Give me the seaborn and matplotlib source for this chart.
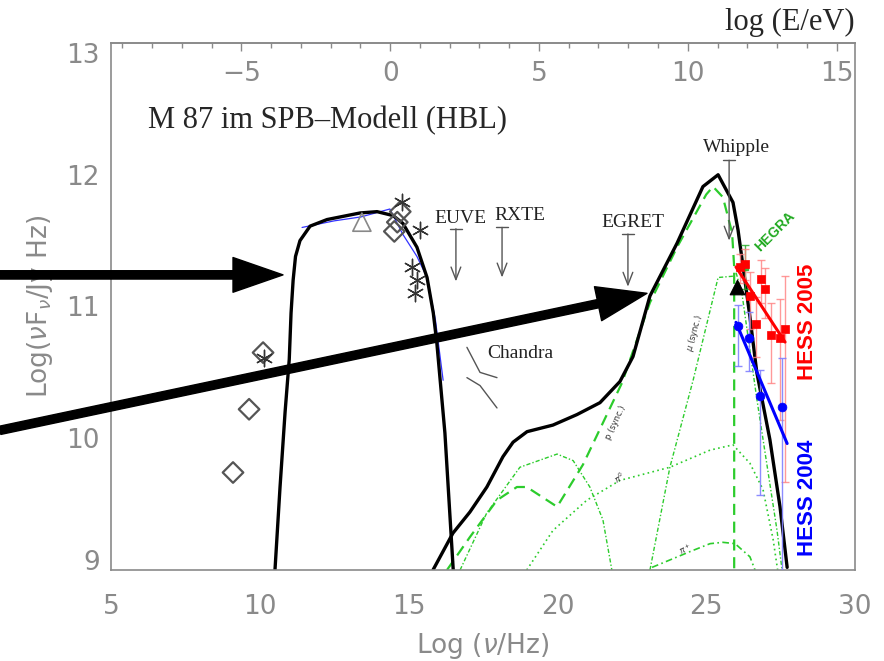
import numpy as np
import pandas as pd
import matplotlib
matplotlib.use("Agg")
import matplotlib.pyplot as plt
from matplotlib.ticker import MultipleLocator
import seaborn as sns

sns.set_style("white")
plt.rcParams["font.family"] = ["DejaVu Sans"]

# ---------------- data ----------------
# synchrotron model (black, low energy)
sync_nu = [10.51, 10.68, 10.85, 10.99, 11.05, 11.12, 11.20, 11.35, 11.69, 12.26, 13.37, 13.94, 14.48, 14.81, 15.28, 15.62, 15.83, 15.95, 16.22, 16.50]
sync_y = [9.00, 9.63, 10.20, 10.60, 10.95, 11.20, 11.38, 11.50, 11.61, 11.66, 11.71, 11.72, 11.69, 11.63, 11.45, 11.22, 10.95, 10.72, 10.04, 9.00]
# thin blue data curve
blue_nu = [11.42, 12.50, 13.40, 14.37, 14.80, 15.28, 15.62, 15.90, 16.16]
blue_y = [11.60, 11.65, 11.68, 11.74, 11.55, 11.38, 11.22, 10.90, 10.44]
# SPB total (black, high energy)
spb_nu = [15.82, 16.49, 17.06, 17.63, 18.17, 18.51, 18.98, 19.85, 20.66, 21.43, 22.10, 22.54, 23.11, 24.02, 24.89, 25.40, 25.90, 26.07, 26.47, 26.70, 27.14, 27.48, 27.72]
spb_y = [9.00, 9.28, 9.44, 9.63, 9.86, 9.97, 10.05, 10.10, 10.18, 10.27, 10.43, 10.62, 11.08, 11.48, 11.91, 12.00, 11.79, 11.58, 10.92, 10.50, 9.99, 9.48, 9.02]
# p (sync.) green dashed
psync_nu = [16.29, 17.06, 17.97, 18.64, 18.97, 19.99, 20.86, 22.17, 23.11, 24.02, 25.00, 25.23, 25.56, 25.87, 25.94, 25.94]
psync_y = [9.00, 9.25, 9.53, 9.63, 9.63, 9.48, 9.80, 10.42, 11.03, 11.45, 11.85, 11.91, 11.83, 11.56, 11.30, 9.00]
# hump green dotted-dashed
hump_nu = [16.73, 17.62, 18.74, 19.99, 20.53, 21.09, 21.53, 21.83]
hump_y = [9.00, 9.43, 9.78, 9.88, 9.83, 9.63, 9.38, 9.00]
# pi0 cascade green dotted
pi0_nu = [18.97, 19.85, 20.99, 22.10, 23.78, 25.13, 25.90, 26.47, 26.91, 27.25, 27.40]
pi0_y = [9.00, 9.30, 9.53, 9.68, 9.78, 9.91, 9.95, 9.81, 9.61, 9.23, 9.00]
# mu (sync.) green dash-dot
mu_nu = [23.11, 23.78, 24.56, 25.40, 25.90, 26.00, 26.20, 26.70, 27.38, 27.55]
mu_y = [9.00, 9.78, 10.44, 11.22, 11.23, 11.26, 11.10, 10.30, 9.30, 9.00]
# pi+ cascade green dash-dot
pip_nu = [23.18, 24.46, 25.13, 25.56, 25.97, 26.47, 26.64]
pip_y = [9.02, 9.14, 9.20, 9.21, 9.20, 9.10, 9.00]

# archival data
dia_nu = [9.10, 9.64, 10.11, 14.72, 14.62, 14.52]
dia_y = [9.74, 10.22, 10.65, 11.72, 11.64, 11.57]
ast_nu = [10.15, 14.78, 15.38, 15.11, 15.28, 15.21]
ast_y = [10.61, 11.79, 11.58, 11.30, 11.20, 11.10]
tri_nu = [13.43]
tri_y = [11.64]

# HESS 2005
h5_nu = [26.14, 26.30, 26.47, 26.84, 26.98, 26.67, 27.18, 27.48, 27.65]
h5_y = [11.30, 11.32, 11.08, 11.21, 11.13, 10.87, 10.78, 10.76, 10.83]
h5_lo = [0.12, 0.12, 0.25, 0.18, 0.22, 0.25, 0.36, 0.62, 1.16]
h5_hi = [0.10, 0.12, 0.18, 0.14, 0.16, 0.20, 0.25, 0.30, 0.40]
h5_fit_nu = [26.00, 27.65]
h5_fit_y = [11.30, 10.73]
# HESS 2004
h4_nu = [26.07, 26.44, 26.81, 27.55]
h4_y = [10.85, 10.76, 10.32, 10.24]
h4_lo = [0.30, 0.25, 0.75, 1.30]
h4_hi = [0.16, 0.20, 0.20, 0.37]
h4_fit_nu = [26.00, 27.72]
h4_fit_y = [10.88, 9.96]
# HEGRA
hegra_nu = [26.30]
hegra_y = [11.30]
hegra_err = [0.17]
# black triangle
btri_nu = [26.03]
btri_y = [11.15]

# upper limits
ul_names = ["EUVE", "RXTE", "EGRET", "Whipple"]
ul_nu = [16.59, 18.14, 22.37, 25.77]
ul_top = [11.59, 11.60, 11.55, 12.11]
ul_bot = [11.19, 11.22, 11.15, 11.50]
ul_lab_nu = [16.73, 18.74, 22.54, 26.03]
ul_lab_y = [11.63, 11.66, 11.60, 12.17]

# Chandra bow-tie
ch1_nu = [16.96, 17.40, 17.97]
ch1_y = [10.69, 10.50, 10.46]
ch2_nu = [16.96, 17.40, 17.97]
ch2_y = [10.46, 10.40, 10.23]

# big annotation arrows (tail -> head)
arr_tail_nu = [1.27, 1.27]
arr_tail_y = [11.24, 10.06]
arr_head_nu = [10.78, 23.01]
arr_head_y = [11.24, 11.10]

xticks = [5, 10, 15, 20, 25, 30]
yticks = [9, 10, 11, 12, 13]
top_ticks = [-5, 0, 5, 10, 15]
E_OFFSET = 14.38  # log(E/eV) = log(nu/Hz) - 14.38

# ---------------- figure ----------------
W, H = 884, 661
fig = plt.figure(figsize=(W / 100, H / 100), dpi=100)
ax = fig.add_axes([111 / W, (H - 570) / H, 744 / W, 527 / H])
ax.set_xlim(5, 30)
ax.set_ylim(9, 13)

gray = "#8a8a8a"
green = "#2ccc2c"

def line(x, y, **kw):
    sns.lineplot(x=x, y=y, sort=False, estimator=None, ax=ax, legend=False, **kw)

# green model components
line(psync_nu, psync_y, color=green, lw=1.6, linestyle=(0, (5, 3)))
line(hump_nu, hump_y, color=green, lw=1.0, linestyle=(0, (3, 1.5, 1, 1.5)))
line(pi0_nu, pi0_y, color=green, lw=1.2, linestyle=(0, (1, 2)))
line(mu_nu, mu_y, color=green, lw=1.0, linestyle=(0, (3, 1.5, 1, 1.5)))
line(pip_nu, pip_y, color=green, lw=1.2, linestyle=(0, (4, 2, 1, 2)))

# blue data curve and black models
line(blue_nu, blue_y, color="#3333ff", lw=0.9)
line(sync_nu, sync_y, color="black", lw=2.4)
line(spb_nu, spb_y, color="black", lw=2.4)

# Chandra
line(ch1_nu, ch1_y, color="#555555", lw=1.0)
line(ch2_nu, ch2_y, color="#555555", lw=1.0)

# archival points
sns.scatterplot(x=dia_nu, y=dia_y, marker="D", s=110, facecolor="none",
                edgecolor="#555555", linewidth=1.6, ax=ax, zorder=5)
sns.scatterplot(x=ast_nu, y=ast_y, marker=(6, 2, 0), s=140, color="#333333",
                linewidth=1.0, ax=ax, zorder=5)
sns.scatterplot(x=tri_nu, y=tri_y, marker="^", s=170, facecolor="none",
                edgecolor="#888888", linewidth=1.2, ax=ax, zorder=5)

# upper limits
for nm, x, yt, yb, lx, ly in zip(ul_names, ul_nu, ul_top, ul_bot, ul_lab_nu, ul_lab_y):
    ax.annotate("", xy=(x, yb), xytext=(x, yt),
                arrowprops=dict(arrowstyle="->,head_length=0.9,head_width=0.35",
                                color="#555555", lw=1.0, shrinkA=0, shrinkB=0))
    ax.plot([x - 0.2, x + 0.2], [yt, yt], color="#555555", lw=1.0)
    ax.text(lx, ly, nm, ha="center", va="baseline", fontsize=14,
            family="Liberation Serif", color="#222222")

ax.text(17.63, 10.61, "Chandra", ha="left", va="baseline", fontsize=14,
        family="Liberation Serif", color="#222222")

# HEGRA
ax.errorbar(hegra_nu, hegra_y, yerr=hegra_err, fmt="s", color="#22aa22",
            ms=5, capsize=3, lw=1, alpha=0.8, zorder=6)
# HESS 2005
ax.errorbar(h5_nu, h5_y, yerr=[h5_lo, h5_hi], fmt="none", ecolor="#ff8080",
            elinewidth=1.0, capsize=3, alpha=0.8, zorder=6)
sns.scatterplot(x=h5_nu, y=h5_y, marker="s", s=40, color="red",
                edgecolor="red", ax=ax, zorder=7)
line(h5_fit_nu, h5_fit_y, color="red", lw=2.2, zorder=8)
# HESS 2004
ax.errorbar(h4_nu, h4_y, yerr=[h4_lo, h4_hi], fmt="none", ecolor="#8080ff",
            elinewidth=1.0, capsize=3, alpha=0.9, zorder=6)
sns.scatterplot(x=h4_nu, y=h4_y, marker="o", s=40, color="blue",
                edgecolor="blue", ax=ax, zorder=7)
line(h4_fit_nu, h4_fit_y, color="blue", lw=2.2, zorder=8)
sns.scatterplot(x=btri_nu, y=btri_y, marker="^", s=110, color="black",
                edgecolor="black", ax=ax, zorder=8)

# labels
ax.text(28.42, 10.88, "HESS 2005", rotation=90, ha="center", va="center",
        color="red", fontsize=16, fontweight="bold", family="Liberation Sans")
ax.text(28.42, 9.55, "HESS 2004", rotation=90, ha="center", va="center",
        color="blue", fontsize=16, fontweight="bold", family="Liberation Sans")
ax.text(27.31, 11.57, "HEGRA", rotation=45, ha="center", va="center",
        color="#22aa22", fontsize=10, fontweight="bold", family="Liberation Sans")
ax.text(21.94, 10.12, r"p (sync.)", rotation=65, ha="center", va="center",
        fontsize=6, color="#333333")
ax.text(24.62, 10.80, r"$\mu$ (sync.)", rotation=75, ha="center", va="center",
        fontsize=6, color="#333333")
ax.text(22.10, 9.70, r"$\pi^0$", rotation=30, ha="center", va="center",
        fontsize=6, color="#333333")
ax.text(24.29, 9.16, r"$\pi^+$", rotation=25, ha="center", va="center",
        fontsize=6, color="#333333")

ax.text(0.05, 0.839, "M 87 im SPB\u2013Modell (HBL)", transform=ax.transAxes,
        ha="left", va="baseline", fontsize=22, family="Liberation Serif")
ax.text(1.0, 1.025, "log (E/eV)", transform=ax.transAxes, ha="right",
        va="baseline", fontsize=22, family="Liberation Serif")

# big black arrows
for tx, ty, hx, hy in zip(arr_tail_nu, arr_tail_y, arr_head_nu, arr_head_y):
    ax.annotate("", xy=(hx, hy), xytext=(tx, ty), annotation_clip=False,
                arrowprops=dict(width=6, headwidth=25, headlength=36,
                                facecolor="black", edgecolor="black", shrink=0),
                zorder=20)

# axes styling
for s in ax.spines.values():
    s.set_color(gray)
    s.set_linewidth(1.2)
ax.set_xticks(xticks)
ax.set_yticks(yticks)
ax.xaxis.set_minor_locator(MultipleLocator(1))
ax.yaxis.set_minor_locator(MultipleLocator(0.1))
ax.tick_params(axis="x", which="major", direction="in", length=6, width=1,
               color=gray, labelcolor=gray, labelsize=19, pad=17, top=False)
ax.tick_params(axis="x", which="minor", direction="in", length=3.6, width=1,
               color=gray, top=False)
ax.tick_params(axis="y", which="major", direction="in", length=11, width=1,
               color=gray, labelcolor=gray, labelsize=19, pad=8, right=False)
ax.tick_params(axis="y", which="minor", direction="in", length=5.5, width=1,
               color=gray, right=False)
for lab in ax.get_yticklabels():
    if lab.get_text() == "13":
        lab.set_va("top")
    elif lab.get_text() == "9":
        lab.set_va("baseline")

ax.set_xlabel(r"Log ($\nu$/Hz)", fontsize=19, color=gray, labelpad=8)
ax.set_ylabel(r"Log($\nu$F$_\nu$/Jy Hz)", fontsize=19, color=gray)
ax.yaxis.label.set_va("center")
ax.yaxis.set_label_coords(-0.095, 0.5)

secax = ax.secondary_xaxis("top", functions=(lambda x: x - E_OFFSET,
                                             lambda e: e + E_OFFSET))
secax.set_xticks(top_ticks)
secax.xaxis.set_minor_locator(MultipleLocator(1))
secax.tick_params(axis="x", which="major", direction="in", length=6, width=1,
                  color=gray, labelcolor=gray, labelsize=19, pad=-32)
secax.tick_params(axis="x", which="minor", direction="in", length=3.6, width=1,
                  color=gray)
secax.spines["top"].set_color(gray)
secax.spines["top"].set_linewidth(1.2)

fig.savefig("out.png", dpi=100)
